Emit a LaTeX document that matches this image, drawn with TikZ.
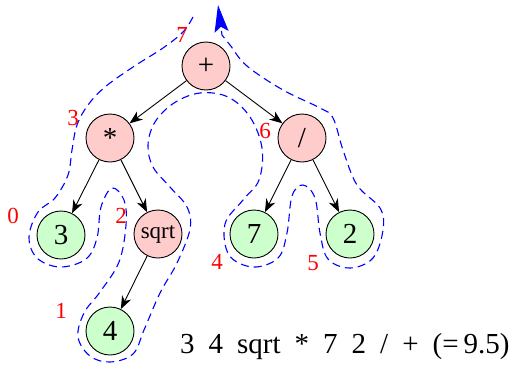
\documentclass[tikz,border=0pt]{standalone}
\usepackage{fontspec}
\setmainfont{Liberation Serif}
\usetikzlibrary{arrows.meta}
\begin{document}
\begin{tikzpicture}[x=1pt,y=-1pt,
  tn/.style={circle, draw=black, line width=0.9pt, minimum size=48pt, inner sep=0pt, font=\fontsize{29}{29}\selectfont},
  opn/.style={tn, fill=red!20},
  numn/.style={tn, fill=green!20},
  edge/.style={-{Stealth[length=13pt,width=10pt,inset=4pt]}, line width=0.9pt},
  lbl/.style={text=red, font=\fontsize{23}{23}\selectfont, inner sep=0pt},
  walk/.style={blue, line width=1.1pt, dash pattern=on 8pt off 5pt}
]
\useasboundingbox (0,0) rectangle (518,364);
% walk contour
\draw[walk, -{Stealth[length=27pt,width=14pt,inset=5pt]}]
  plot[smooth, tension=0.6] coordinates {
  (193,17) (183,32) (163,48) (133,67) (105,87) (88,105) (77,125) (72,150) (68,175)
  (55,198) (38,212) (29,237) (37,258) (60,267) (86,259) (97,238) (101,207) (112,188)
  (124,200) (126,225) (119,262) (100,292) (84,313) (78,337) (90,356) (110,362)
  (133,354) (144,330) (160,293) (177,263) (190,229) (187,207) (170,187) (153,167)
  (148,145) (155,122) (174,103) (200,93) (228,97) (250,117) (262,148) (259,180)
  (243,200) (225,224) (229,255) (253,267) (278,258) (287,233) (292,196) (303,185)
  (315,198) (320,233) (328,259) (350,268) (373,258) (383,230) (380,208) (357,185)
  (343,150) (333,118) (320,108) (283,90) (247,66) (230,45) (222,35)}
  -- (218,5);
% tree nodes
\node[opn] (plus) at (206,66) {+};
\node[opn] (times) at (110,138) {*};
\node[opn] (div) at (302,138) {/};
\node[numn] (three) at (61,235) {3};
\node[opn, font=\fontsize{23}{23}\selectfont] (sqrt) at (158,234) {sqrt};
\node[numn] (seven) at (254,234) {7};
\node[numn] (two) at (350,234) {2};
\node[numn] (four) at (110,331) {4};
% edges
\draw[edge] (plus) -- (times);
\draw[edge] (plus) -- (div);
\draw[edge] (times) -- (three);
\draw[edge] (times) -- (sqrt);
\draw[edge] (sqrt) -- (four);
\draw[edge] (div) -- (seven);
\draw[edge] (div) -- (two);
% order labels
\node[lbl] (l7) at (182,35) {7};
\node[lbl] (l3) at (73,118) {3};
\node[lbl] (l6) at (265,131) {6};
\node[lbl] (l0) at (13,216) {0};
\node[lbl] (l2) at (121,216) {2};
\node[lbl] (l1) at (61,311) {1};
\node[lbl] (l4) at (217,262) {4};
\node[lbl] (l5) at (313,263) {5};
% postfix expression
\node[anchor=base west, inner sep=0pt, font=\fontsize{29}{29}\selectfont] (expr) at (180,353)
  {3\hspace{14pt}4\hspace{14pt}sqrt\hspace{14pt}*\hspace{14pt}7\hspace{14pt}2\hspace{14pt}/\hspace{14pt}+\hspace{14pt}(=\hspace{5pt}9.5)};
\end{tikzpicture}
\end{document}
